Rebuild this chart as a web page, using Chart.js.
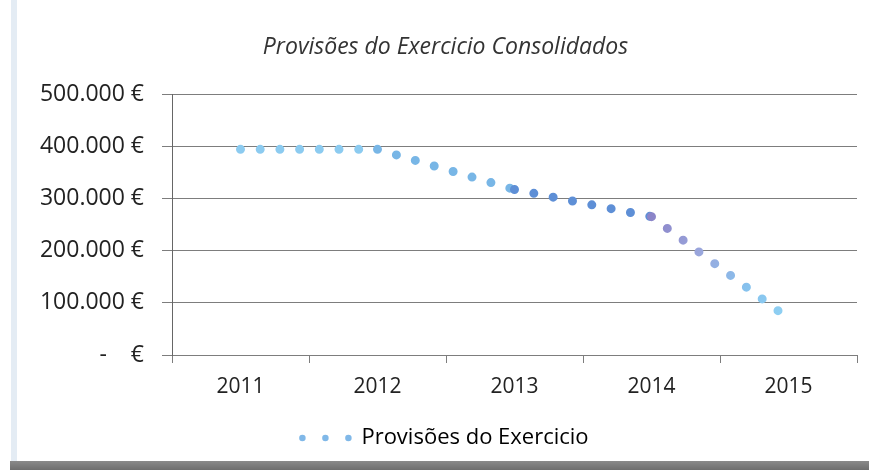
<!DOCTYPE html>
<html>
<head>
<meta charset="utf-8">
<script src="https://cdn.jsdelivr.net/npm/chart.js@4/dist/chart.umd.min.js"></script>
<style>
  html, body { margin: 0; padding: 0; background: #fff; }
  #wrap { position: relative; width: 869px; height: 470px; overflow: hidden; }
  /* scan edges of the original picture */
  #leftEdge { position: absolute; left: 11px; top: 0; width: 6px; height: 462px; background: #e4ecf4; }
  #bottomEdge { position: absolute; left: 10px; top: 461px; width: 859px; height: 9px;
    background: linear-gradient(#8a8a8a, #6e6e6e); }
  canvas { position: absolute; left: 0; top: 0; }
</style>
</head>
<body>
<div id="wrap">
  <div id="leftEdge"></div>
  <canvas id="provChart" width="869" height="470"></canvas>
  <div id="bottomEdge"></div>
</div>
<script>
// chart data
var years = ["2011", "2012", "2013", "2014", "2015"];
var provisoes = [394000, 394000, 317000, 265000, 70000];
var yTickLabels = ["-    €", "100.000 €", "200.000 €", "300.000 €", "400.000 €", "500.000 €"];

var seriesName = "Provisões do Exercicio";
var titleText = "Provisões do Exercicio Consolidados";

var fontFamily = "'Open Sans', sans-serif";
var gridColor = "#7d7d7d";

// each segment a different colour so the dot pattern restarts at every point (like the original)
var segmentColors = ["#8ccbf0", "#78b6e6", "#5e8fd6"];

function segColor(ctx) {
  var i = ctx.p0DataIndex;
  if (i < segmentColors.length) return segmentColors[i];
  var g = ctx.chart.ctx.createLinearGradient(ctx.p0.x, ctx.p0.y, ctx.p1.x, ctx.p1.y);
  g.addColorStop(0, "#8b84c8");
  g.addColorStop(0.35, "#9aa6dc");
  g.addColorStop(0.7, "#86c2ee");
  g.addColorStop(1, "#90d2f3");
  return g;
}

var ctx = document.getElementById("provChart").getContext("2d");

var provChart = new Chart(ctx, {
  type: "line",
  data: {
    labels: years,
    datasets: [
      {
        label: seriesName,
        data: provisoes,
        borderColor: "#7cbbe8",
        borderWidth: 9,
        borderDash: [0, 19.7],
        borderCapStyle: "round",
        pointRadius: 0,
        tension: 0,
        fill: false,
        segment: {
          borderColor: segColor
        }
      }
    ]
  },
  options: {
    responsive: false,
    animation: false,
    layout: {
      padding: { left: 34, right: 12, top: 0, bottom: 11 }
    },
    plugins: {
      title: {
        display: true,
        text: titleText,
        color: "#333",
        font: { family: fontFamily, size: 23, style: "italic", weight: "normal", lineHeight: 1.2 },
        padding: { top: 34, bottom: 32.4 }
      },
      legend: {
        position: "bottom",
        labels: {
          color: "#222",
          font: { family: fontFamily, size: 22 },
          usePointStyle: true,
          pointStyleWidth: 48,
          padding: 10,
          generateLabels: function (chart) {
            return [{
              text: seriesName,
              datasetIndex: 0,
              pointStyle: "line",
              strokeStyle: "#80b8e8",
              fillStyle: "#80b8e8",
              lineWidth: 6.5,
              lineDash: [0, 23],
              lineCap: "round",
              hidden: false
            }];
          }
        }
      },
      tooltip: { enabled: false }
    },
    scales: {
      x: {
        offset: true,
        grid: {
          offset: true,
          drawOnChartArea: false,
          drawTicks: true,
          tickLength: 8,
          color: gridColor
        },
        border: { display: true, color: gridColor },
        ticks: {
          color: "#222",
          padding: 11,
          font: { family: fontFamily, size: 21 }
        },
        afterFit: function (scale) { scale.height = 62; }
      },
      y: {
        min: 0,
        max: 500000,
        grid: {
          color: gridColor,
          tickLength: 10,
          drawTicks: true
        },
        border: { display: true, color: "#666" },
        ticks: {
          stepSize: 100000,
          color: "#222",
          padding: 18,
          font: { family: fontFamily, size: 23 },
          callback: function (value) {
            return yTickLabels[Math.round(value / 100000)];
          }
        },
        afterFit: function (scale) { scale.width = 138; }
      }
    }
  }
});
</script>
</body>
</html>
